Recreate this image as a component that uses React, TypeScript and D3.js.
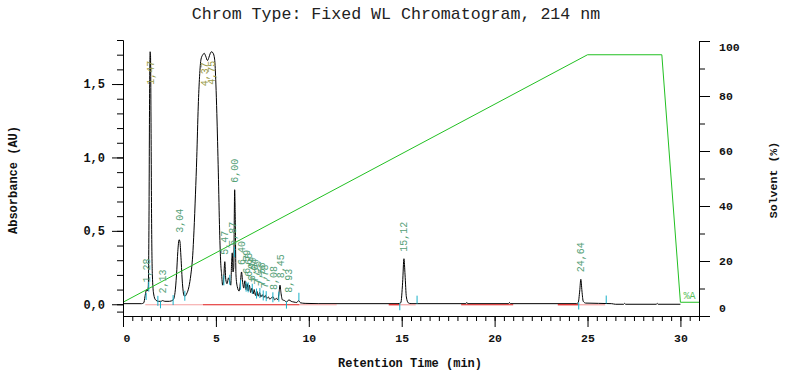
import React, { useEffect, useRef } from 'react';
import * as d3 from 'd3';

const W = 788;
const H = 380;
const TITLE = 'Chrom Type: Fixed WL Chromatogram, 214 nm';
const X_LABEL = 'Retention Time (min)';
const Y_LABEL = 'Absorbance (AU)';
const Y2_LABEL = 'Solvent (%)';
const GRADIENT_LABEL = '%A';

// chromatogram trace (min, AU)
const traceTime = [
  0, 1.0, 1.12, 1.18, 1.24, 1.28, 1.32, 1.36, 1.4, 1.43, 1.46, 1.48, 1.51, 1.54, 1.58, 1.65, 1.75, 1.9,
  2.05, 2.13, 2.25, 2.5, 2.7, 2.8, 2.88, 2.95, 3.02, 3.06, 3.12, 3.2, 3.28, 3.33, 3.42, 3.55, 3.65,
  3.75, 3.82, 3.9, 3.97, 4.05, 4.12, 4.2, 4.3, 4.37, 4.45, 4.55, 4.62, 4.7, 4.77, 4.85, 4.93, 5.0,
  5.05, 5.13, 5.2, 5.26, 5.31, 5.36, 5.42, 5.48, 5.53, 5.6, 5.68, 5.74, 5.8, 5.85, 5.88, 5.92, 5.96,
  6.01, 6.04, 6.08, 6.15, 6.25, 6.32, 6.38, 6.44, 6.5, 6.56, 6.62, 6.68, 6.74, 6.8, 6.87, 6.94, 7.0,
  7.06, 7.13, 7.2, 7.28, 7.35, 7.42, 7.5, 7.58, 7.66, 7.74, 7.82, 7.9, 8.0, 8.08, 8.16, 8.25, 8.33,
  8.4, 8.45, 8.5, 8.58, 8.7, 8.8, 8.93, 9.05, 9.2, 9.35, 9.45, 9.55, 9.8, 10.5, 14.8, 14.95, 15.05,
  15.12, 15.18, 15.25, 15.35, 15.5, 18.45, 18.5, 18.55, 20.75, 20.8, 20.85, 24.4, 24.5, 24.58, 24.64,
  24.7, 24.77, 24.9, 26.3, 26.5, 26.95, 27.0, 27.05, 28.7, 28.75, 28.8, 30.0,
];
const traceAU = [
  0.004, 0.004, 0.01, 0.05, 0.09, 0.1, 0.09, 0.12, 0.6, 1.4, 1.72, 1.7, 1.2, 0.55, 0.2, 0.07, 0.03, 0.02,
  0.02, 0.025, 0.02, 0.02, 0.03, 0.08, 0.2, 0.36, 0.44, 0.43, 0.32, 0.14, 0.06, 0.055, 0.07, 0.12, 0.2,
  0.33, 0.5, 0.75, 1.0, 1.35, 1.55, 1.67, 1.7, 1.71, 1.69, 1.66, 1.68, 1.71, 1.72, 1.71, 1.67, 1.5,
  1.3, 0.9, 0.5, 0.28, 0.2, 0.13, 0.18, 0.29, 0.17, 0.14, 0.18, 0.16, 0.13, 0.3, 0.35, 0.22, 0.25,
  0.78, 0.6, 0.2, 0.12, 0.09, 0.15, 0.22, 0.15, 0.11, 0.16, 0.1, 0.14, 0.09, 0.13, 0.08, 0.11, 0.07,
  0.1, 0.06, 0.09, 0.055, 0.08, 0.05, 0.065, 0.045, 0.06, 0.04, 0.05, 0.035, 0.045, 0.05, 0.03, 0.04, 0.03,
  0.08, 0.13, 0.08, 0.03, 0.025, 0.015, 0.03, 0.02, 0.015, 0.012, 0.025, 0.01, 0.006, 0.004, 0.004, 0.01, 0.15,
  0.31, 0.2, 0.05, 0.01, 0.004, 0.004, 0.012, 0.004, 0.004, 0.012, 0.004, 0.004, 0.012, 0.09, 0.17,
  0.09, 0.02, 0.008, 0.004, 0.0, 0.0, 0.006, 0.0, 0.0, 0.006, 0.0, 0.0,
];

// solvent gradient (min, %)
const gradientTime = [0, 25, 29, 30, 31];
const gradientPct = [5, 95, 95, 5, 5];

// peak annotations
const peakTimes = [1.28, 1.47, 2.13, 3.04, 4.37, 4.75, 5.47, 5.87, 6.0, 6.4, 6.62, 6.76, 6.92, 7.08, 7.26, 7.44, 7.62, 8.08, 8.45, 8.93, 15.12, 24.64];
const peakLabels = ['1,28', '1,47', '2,13', '3,04', '4,37', '4,75', '5,47', '5,87', '6,00', '6,40', '6,59', '6,65', '6,94', '7,04', '7,25', '7,56', '7,78', '8,08', '8,45', '8,93', '15,12', '24,64'];
const peakHeights = [0.1, 1.72, 0.025, 0.44, 1.71, 1.72, 0.29, 0.35, 0.78, 0.22, 0.16, 0.14, 0.11, 0.1, 0.085, 0.075, 0.06, 0.05, 0.13, 0.03, 0.31, 0.17];
const peakInside = [false, true, false, false, true, true, false, false, false, false, false, false, false, false, false, false, false, false, false, false, false, false];

// integration markers (min, side: -1 below, 0 across, 1 above)
const markerTimes = [1.22, 1.36, 1.85, 1.99, 2.67, 3.3, 5.4, 5.72, 5.97, 6.3, 6.6, 6.71, 6.93, 7.16, 7.34, 7.52, 7.68, 8.04, 8.36, 8.77, 9.44, 14.87, 15.8, 24.5, 25.98];
const markerSide = [-1, 0, 0, -1, 0, 0, 0, 0, 0, 0, 0, 0, 0, 0, 0, 0, 0, 0, 0, -1, 1, -1, 1, -1, 1];

// integration baselines
const baseStart = [1.2, 4.3, 9.5, 14.3, 14.9, 18.2, 23.4, 24.5];
const baseEnd = [4.3, 9.5, 11.5, 14.9, 15.75, 21.0, 24.5, 25.95];
const baseTone = ['pink', 'red', 'pink', 'red', 'pink', 'red', 'red', 'pink'];

const xMajorTicks = [0, 5, 10, 15, 20, 25, 30];
const yMajorTicks = [0, 0.5, 1.0, 1.5];
const y2MajorTicks = [0, 20, 40, 60, 80, 100];

const FONT = "'Liberation Mono', 'DejaVu Sans Mono', monospace";

export default function App() {
  const axRef = useRef<SVGGElement | null>(null);

  const x = d3.scaleLinear().domain([0, 31]).range([123, 699]);
  const y = d3.scaleLinear().domain([-0.08, 1.8]).range([316, 40]);
  const y2 = d3.scaleLinear().domain([0, 100]).range([316, 41]);

  const trace: [number, number][] = traceTime.map((t, i) => [t, traceAU[i]]);
  const grad: [number, number][] = gradientTime.map((t, i) => [t, gradientPct[i]]);

  const traceLine = d3
    .line<[number, number]>()
    .x((d) => x(d[0]))
    .y((d) => y(d[1]))
    .curve(d3.curveMonotoneX);
  const gradLine = d3
    .line<[number, number]>()
    .x((d) => x(d[0]))
    .y((d) => y2(d[1]));

  const bis = d3.bisector((d: number) => d).left;
  const traceAt = (t: number) => {
    const i = Math.max(1, Math.min(traceTime.length - 1, bis(traceTime, t)));
    const t0 = traceTime[i - 1], t1 = traceTime[i];
    const v0 = traceAU[i - 1], v1 = traceAU[i];
    const f = t1 === t0 ? 0 : (t - t0) / (t1 - t0);
    return v0 + (v1 - v0) * f;
  };

  useEffect(() => {
    const g = d3.select(axRef.current);
    g.selectAll('*').remove();
    const fmt = (d: any) => d3.format('.1f')(d).replace('.', ',');
    const yMinor = [-0.05, ...d3.range(0, 18.5, 1).map((v) => v / 10)];
    const y2Minor = d3.range(0, 101, 10);
    const xMinor = d3.range(0, 63, 1).map((v) => v / 2);

    const style = (sel: any, size: number) => {
      sel.attr('font-family', FONT).attr('font-size', size).attr('font-weight', 'bold');
      sel.selectAll('text').attr('fill', '#111');
      sel.selectAll('line').attr('stroke', '#000');
      sel.selectAll('path').attr('stroke', '#000');
    };

    // left axis
    const gl1 = g.append('g').attr('transform', `translate(${x(0)},0)`)
      .call(d3.axisLeft(y).tickValues(yMinor).tickSize(6).tickSizeOuter(0).tickFormat(() => ''));
    style(gl1, 12);
    const gl2 = g.append('g').attr('transform', `translate(${x(0)},0)`)
      .call(d3.axisLeft(y).tickValues(yMajorTicks).tickSize(11).tickPadding(7).tickSizeOuter(0).tickFormat(fmt));
    style(gl2, 12);

    // right axis
    const gr1 = g.append('g').attr('transform', `translate(${x(31)},0)`)
      .call(d3.axisRight(y2).tickValues(y2Minor).tickSize(6).tickSizeOuter(0).tickFormat(() => ''));
    style(gr1, 11);
    const gr2 = g.append('g').attr('transform', `translate(${x(31)},0)`)
      .call(d3.axisRight(y2).tickValues(y2MajorTicks).tickSize(11).tickPadding(9).tickSizeOuter(0).tickFormat(d3.format('d')));
    style(gr2, 11.5);
    gr2.selectAll('text').attr('dy', (d: any) => (d === 0 ? '-0.4em' : d === 100 ? '0.85em' : '0.32em'));

    // bottom axis
    const gb1 = g.append('g').attr('transform', `translate(0,${y(-0.08)})`)
      .call(d3.axisBottom(x).tickValues(xMinor).tickSize(5).tickSizeOuter(0).tickFormat(() => ''));
    style(gb1, 11);
    const gb2 = g.append('g').attr('transform', `translate(0,${y(-0.08)})`)
      .call(d3.axisBottom(x).tickValues(xMajorTicks).tickSize(11).tickPadding(7).tickSizeOuter(0).tickFormat(d3.format('d')));
    style(gb2, 11.5);
    gb2.selectAll('text').attr('dx', (d: any) => (d === 0 ? '0.3em' : 0));
  }, []);

  return (
    <svg
      width={W}
      height={H}
      style={{ position: 'absolute', left: 0, top: 0, background: '#fff' }}
      xmlns="http://www.w3.org/2000/svg"
    >
      <rect x={0} y={0} width={W} height={H} fill="#fff" />
      <text x={396} y={19} textAnchor="middle" fontFamily={FONT} fontSize={16.6} fill="#222">
        {TITLE}
      </text>

      {/* trace */}
      <path d={traceLine(trace) || ''} fill="none" stroke="#000" strokeWidth={1} />

      {/* integration baselines */}
      {baseStart.map((s, i) => (
        <line
          key={'b' + i}
          x1={x(s)}
          x2={x(baseEnd[i])}
          y1={y(0) + 0.5}
          y2={y(0) + 0.5}
          stroke={baseTone[i] === 'red' ? '#e01818' : '#f4a0a0'}
          strokeWidth={1.2}
        />
      ))}

      {/* markers */}
      {markerTimes.map((t, i) => {
        const cy = y(traceAt(t));
        const side = markerSide[i];
        const y1 = side === -1 ? cy : side === 1 ? cy - 8 : cy - 5;
        const y2v = side === -1 ? cy + 7 : side === 1 ? cy : cy + 5;
        return (
          <line key={'m' + i} x1={x(t) + 0.5} x2={x(t) + 0.5} y1={y1} y2={y2v} stroke="#18b0c8" strokeWidth={1} />
        );
      })}

      {/* gradient */}
      <path d={gradLine(grad) || ''} fill="none" stroke="#22c022" strokeWidth={1} />
      <text x={x(30) + 3} y={y2(5) - 3} fontFamily={FONT} fontSize={10} fill="#58c058">
        {GRADIENT_LABEL}
      </text>

      {/* peak labels */}
      {peakTimes.map((t, i) => {
        const px = x(t);
        const inside = peakInside[i];
        const py = inside ? y(peakHeights[i]) + 9 : y(peakHeights[i]) - 7;
        return (
          <text
            key={'p' + i}
            transform={`translate(${px},${py}) rotate(-90)`}
            textAnchor={inside ? 'end' : 'start'}
            dy="0.35em"
            fontFamily={FONT}
            fontSize={10}
            fill={inside ? '#9a9c48' : '#55a077'}
          >
            {peakLabels[i]}
          </text>
        );
      })}

      <g ref={axRef} />

      <text
        transform={`translate(13,180) rotate(-90)`}
        textAnchor="middle"
        dy="0.35em"
        fontFamily={FONT}
        fontSize={12}
        fontWeight="bold"
        fill="#111"
      >
        {Y_LABEL}
      </text>
      <text
        transform={`translate(773,180) rotate(-90)`}
        textAnchor="middle"
        dy="0.35em"
        fontFamily={FONT}
        fontSize={11.6}
        fontWeight="bold"
        fill="#111"
      >
        {Y2_LABEL}
      </text>
      <text x={410} y={367} textAnchor="middle" fontFamily={FONT} fontSize={12} fontWeight="bold" fill="#111">
        {X_LABEL}
      </text>
    </svg>
  );
}
